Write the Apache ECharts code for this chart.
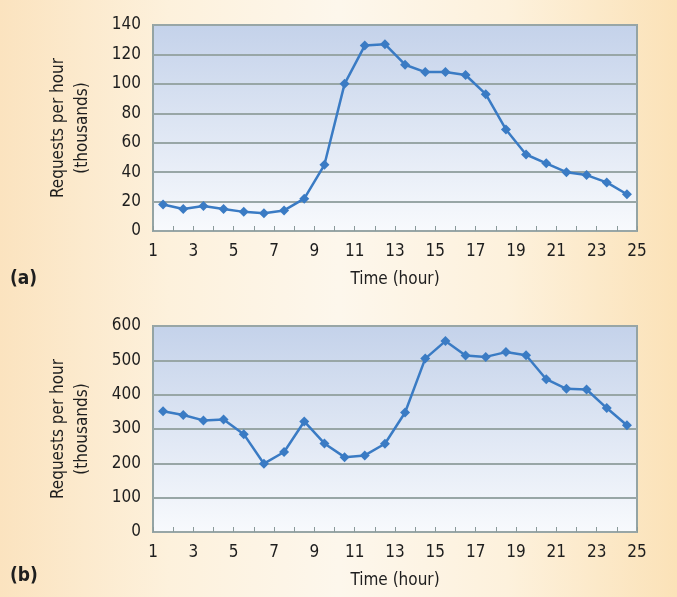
<!DOCTYPE html>
<html>
<head>
<meta charset="utf-8">
<script src="https://cdn.jsdelivr.net/npm/echarts@6/dist/echarts.min.js"></script>
<style>
html,body{margin:0;padding:0;}
body{width:677px;height:597px;background:linear-gradient(to right,#fbe3bf 0%,#fdf1dc 25%,#fdf7ec 50%,#fdf1dc 75%,#fbe2b8 100%);}
#c{width:677px;height:597px;}
</style>
</head>
<body>
<div id="c"></div>
<script>
const hours = [1.5,2.5,3.5,4.5,5.5,6.5,7.5,8.5,9.5,10.5,11.5,12.5,13.5,14.5,15.5,16.5,17.5,18.5,19.5,20.5,21.5,22.5,23.5,24.5];
const valuesA = [18,15,17,15,13,12,14,22,45,100,126,127,113,108,108,106,93,69,52,46,40,38,33,25];
const valuesB = [352,341,325,328,285,199,233,322,258,218,223,257,348,505,556,514,510,524,515,445,417,415,361,311];
const xTickLabels = ['1','3','5','7','9','11','13','15','17','19','21','23','25'];
const yTicksA = [0,20,40,60,80,100,120,140];
const yTicksB = [0,100,200,300,400,500,600];
const panelLabels = ['(a)','(b)'];
const xTitle = 'Time (hour)';
const yTitle = 'Requests per hour\n(thousands)';

const FONT = "'DejaVu Sans Condensed','DejaVu Sans',sans-serif";
const STRETCH = 'condensed';
const chart = echarts.init(document.getElementById('c'));
function plotBg(){
  return new echarts.graphic.LinearGradient(0,0,0,1,[{offset:0,color:'#c4d2ea'},{offset:1,color:'#f8fafd'}]);
}
const txt = {fontFamily:FONT,fontSize:17,fontWeight:STRETCH,color:'#1e1e1e'};

function xAxis(i){
  return {
    type:'value', gridIndex:i, min:1, max:25, interval:1,
    name:xTitle, nameLocation:'middle', nameGap:40,
    nameTextStyle:Object.assign({},txt),
    axisLine:{show:false},
    axisTick:{show:true,inside:true,length:5,lineStyle:{color:'#8a9a9a',width:1}},
    splitLine:{show:false},
    axisLabel:Object.assign({margin:12,
      formatter:v=>{const s=String(v);return xTickLabels.indexOf(s)>=0?s:'';}},txt)
  };
}
function yAxis(i,max,interval){
  return {
    type:'value', gridIndex:i, min:0, max:max, interval:interval,
    name:yTitle, nameLocation:'middle', nameGap:58, nameRotate:90,
    nameTextStyle:Object.assign({lineHeight:24},txt),
    axisLine:{show:false}, axisTick:{show:false},
    splitLine:{show:true,lineStyle:{color:'#98a6a6',width:2}},
    axisLabel:Object.assign({margin:12},txt)
  };
}
function series(i,data){
  return {
    type:'line', xAxisIndex:i, yAxisIndex:i,
    data:hours.map((h,k)=>[h,data[k]]),
    symbol:'diamond', symbolSize:10,
    lineStyle:{color:'#3a7bc4',width:2.5},
    itemStyle:{color:'#3a7bc4'},
    animation:false
  };
}
chart.setOption({
  animation:false,
  grid:[
    {left:153,top:25,width:484,height:206,show:true,backgroundColor:plotBg(),borderColor:'#94a4a4',borderWidth:2},
    {left:153,top:326,width:484,height:206,show:true,backgroundColor:plotBg(),borderColor:'#94a4a4',borderWidth:2}
  ],
  xAxis:[xAxis(0),xAxis(1)],
  yAxis:[yAxis(0,140,20),yAxis(1,600,100)],
  series:[series(0,valuesA),series(1,valuesB)],
  graphic:[
    {type:'text',left:10,top:270,style:{text:panelLabels[0],font:"bold condensed 19px "+FONT,fill:'#1e1e1e'}},
    {type:'text',left:10,top:567,style:{text:panelLabels[1],font:"bold condensed 19px "+FONT,fill:'#1e1e1e'}}
  ]
});
</script>
</body>
</html>
